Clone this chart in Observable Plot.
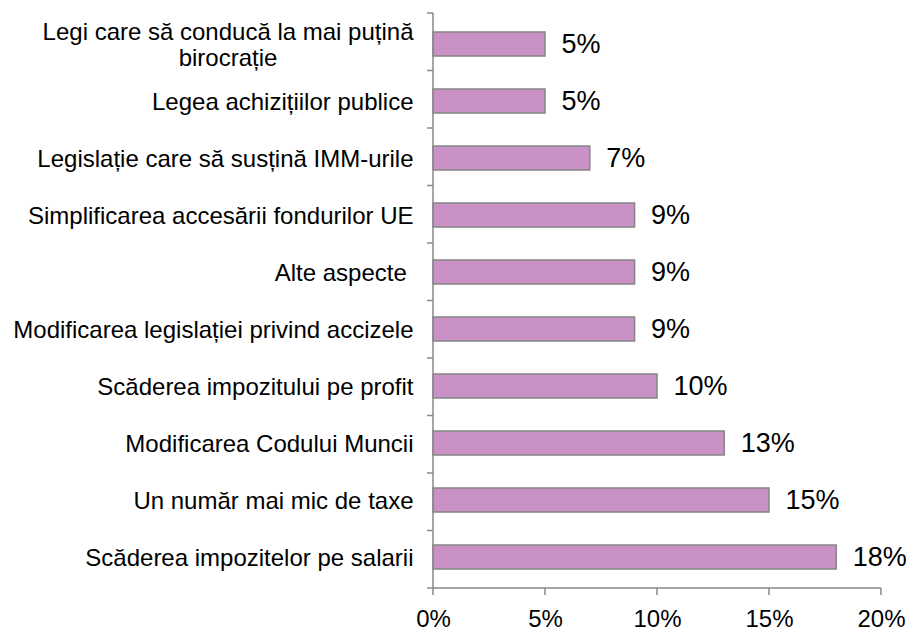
<!DOCTYPE html>
<html>
<head>
<meta charset="utf-8">
<script src="https://cdn.jsdelivr.net/npm/d3@7"></script>
<script src="https://cdn.jsdelivr.net/npm/@observablehq/plot@0.6"></script>
<style>
  html, body { margin: 0; padding: 0; background: #fff; }
  #chart svg { display: block; }
</style>
</head>
<body>
<div id="chart"></div>
<script>
const categories = [
  "Legi care să conducă la mai puțină\nbirocrație",
  "Legea achizițiilor publice",
  "Legislație care să susțină IMM-urile",
  "Simplificarea accesării fondurilor UE",
  "Alte aspecte\u00a0",
  "Modificarea legislației privind accizele",
  "Scăderea impozitului pe profit",
  "Modificarea Codului Muncii",
  "Un număr mai mic de taxe",
  "Scăderea impozitelor pe salarii"
];
const values = [0.05, 0.05, 0.07, 0.09, 0.09, 0.09, 0.10, 0.13, 0.15, 0.18];
const xTicks = [0, 0.05, 0.10, 0.15, 0.20];

const data = categories.map((c, i) => ({category: c, value: values[i]}));
const pct = d3.format(".0%");
const axisColor = "#898989";

function axisLines(index, scales, vals, dims) {
  const {height, marginTop, marginBottom} = dims;
  const top = marginTop, bottom = height - marginBottom;
  const x0 = scales.x(0);
  const g = d3.create("svg:g")
    .attr("stroke", axisColor)
    .attr("stroke-width", 1.5)
    .attr("fill", "none");
  g.append("line").attr("x1", x0).attr("x2", x0).attr("y1", top).attr("y2", bottom);
  g.append("line").attr("x1", x0).attr("x2", scales.x(xTicks[xTicks.length - 1])).attr("y1", bottom).attr("y2", bottom);
  const step = (bottom - top) / categories.length;
  for (let i = 0; i <= categories.length; i++) {
    const y = top + i * step;
    g.append("line").attr("x1", x0 - 6).attr("x2", x0).attr("y1", y).attr("y2", y);
  }
  for (const t of xTicks) {
    const x = scales.x(t);
    g.append("line").attr("x1", x).attr("x2", x).attr("y1", bottom).attr("y2", bottom + 7);
  }
  return g.node();
}

const chart = Plot.plot({
  width: 911,
  height: 630,
  marginLeft: 433,
  marginRight: 30,
  marginTop: 13,
  marginBottom: 42,
  style: {fontFamily: "'Liberation Sans', Arial, sans-serif", background: "#fff", color: "#000"},
  x: {domain: [0, 0.2]},
  y: {domain: categories, paddingInner: 0.58, paddingOuter: 0.29},
  marks: [
    Plot.barX(data, {x: "value", y: "category", fill: "#C991C6", stroke: "#858585", strokeWidth: 1.5}),
    Plot.text(data, {x: "value", y: "category", text: d => pct(d.value), textAnchor: "start", dx: 16, fontSize: 27, fill: "#000"}),
    axisLines,
    Plot.axisY({tickSize: 0, tickPadding: 20, fontSize: 24, lineHeight: 1.08, label: null, fill: "#000"}),
    Plot.axisX({ticks: xTicks, tickFormat: pct, tickSize: 0, tickPadding: 21, fontSize: 24, label: null, fill: "#000"})
  ]
});

document.getElementById("chart").appendChild(chart);

// center multi-line category labels relative to their longest line
chart.querySelectorAll("g[aria-label='y-axis tick label'] text").forEach(t => {
  const spans = t.querySelectorAll("tspan");
  if (spans.length > 1) {
    let w = 0;
    spans.forEach(s => { w = Math.max(w, s.getComputedTextLength()); });
    t.setAttribute("text-anchor", "middle");
    spans.forEach(s => s.setAttribute("x", -w / 2));
  }
});
</script>
</body>
</html>
